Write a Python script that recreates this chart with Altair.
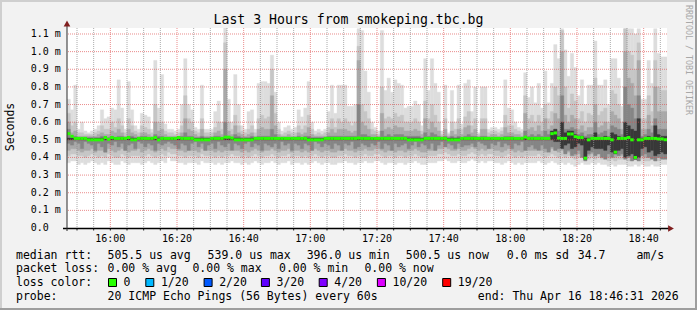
import altair as alt
import pandas as pd

MONO = "DejaVu Sans Mono"
TITLE = "Last 3 Hours from smokeping.tbc.bg"
START = "15:47"          # first minute column on the x axis
N_MIN = 180              # 3 hours of 60 s steps

# ---- per-minute smoke readings, in 1/100 ms (outer -> inner) ----
smoke_max = [73,67,81,56,60,55,54,55,56,58, 67,62,63,68,67,84,68,56,83,67, 58,56,65,64,63,56,95,68,87,59,
             56,56,55,56,70,96,70,67,57,56, 81,56,56,56,66,72,60,114,73,60, 87,70,58,56,66,67,56,82,83,83,
             82,98,77,60,55,57,58,56,57,67, 63,68,83,60,55,56,55,56,66,81, 65,81,81,81,69,69,70,113,112,89,
             77,60,57,55,112,78,85,77,84,82, 81,68,69,69,72,70,58,96,78,96, 82,77,55,81,54,78,60,81,59,82,
             84,66,80,54,80,80,56,57,57,56, 57,84,68,67,60,57,56,88,74,80, 71,82,68,89,71,82,104,96,113,101,
             86,99,91,75,84,70,81,81,106,81, 81,84,70,96,96,85,69,113,113,113, 110,113,73,73,95,82,113,99,97,97]
smoke_hi2 = [65,58,60,54,54,53,53,53,54,55, 58,56,56,60,57,62,58,54,62,58, 55,54,58,57,56,54,70,60,60,55,
             54,54,53,54,58,75,62,60,55,54, 62,54,54,54,57,60,56,105,60,56, 64,58,55,54,56,58,54,62,64,62,
             63,90,65,56,53,54,55,54,54,58, 56,58,64,56,53,54,53,54,57,62, 57,62,60,62,60,58,60,103,70,66,
             62,56,55,53,80,62,63,62,65,63, 64,60,60,60,62,60,55,72,62,70, 64,60,53,62,53,60,56,62,56,63,
             66,58,62,53,62,62,54,55,55,54, 55,64,58,58,56,55,54,75,62,64, 60,64,60,70,62,66,80,75,112,80,
             68,76,72,62,66,60,65,64,85,64, 66,68,60,78,76,70,60,113,100,98, 90,105,62,62,75,66,95,80,78,78]
smoke_hi3 = [60,54,55,52,52,52,52,52,52,53, 54,53,53,55,54,56,54,52,56,54, 53,52,54,54,53,52,60,55,56,53,
             52,52,52,52,54,62,56,55,53,52, 56,52,52,52,54,55,53,90,55,53, 58,54,53,52,53,54,52,56,57,56,
             56,75,58,53,52,52,53,52,52,54, 53,54,57,53,52,52,52,52,54,56, 54,56,56,56,55,54,55,95,60,58,
             56,53,53,52,65,56,57,56,58,57, 57,55,55,55,56,55,53,62,56,60, 57,55,52,56,52,55,53,56,53,57,
             58,54,56,52,56,56,52,53,53,52, 53,57,54,54,53,53,52,65,56,57, 55,58,55,62,56,58,65,62,100,64,
             60,64,62,56,58,55,57,57,70,57, 58,60,56,66,64,62,56,100,85,82, 75,95,56,56,64,58,80,66,66,66]
smoke_hi4 = [56,52,52,51,51,51,51,51,51,51, 52,51,51,52,51,52,52,51,52,52, 51,51,52,52,51,51,53,52,52,51,
             51,51,51,51,52,54,52,52,51,51, 52,51,51,51,52,52,51,60,52,51, 53,52,51,51,51,52,51,52,52,52,
             52,56,53,51,51,51,51,51,51,52, 51,52,52,51,51,51,51,51,52,52, 52,52,52,52,52,52,52,70,53,53,
             52,51,51,51,55,52,53,52,53,53, 53,52,52,52,52,52,51,54,52,54, 53,52,51,52,51,52,51,52,51,52,
             53,52,52,51,52,52,51,51,51,51, 51,52,52,52,51,51,51,55,52,53, 52,53,52,55,53,55,56,55,75,56,
             56,57,56,53,54,52,53,53,60,53, 54,55,52,58,57,56,53,80,70,68, 62,75,52,53,56,54,62,56,56,56]
smoke_hi5 = [51] * 145 + [55,56,52,60,54, 55,55,53,52,52, 51,51,51,54,51, 51,52,51,54,53,
                          52,51,60,58,56, 55,62,51,51,52, 51,58,53,52,52]
smoke_lo5 = [50] * 145 + [50,49,49,45,47, 48,45,46,48,47, 39,44,46,45,45, 45,44,47,43,42,
                          44,45,40,41,42, 39,40,45,46,43, 44,41,42,43,42]
smoke_lo4 = [48,47,49,48,45,49,48,47,44,48, 46,43,48,47,49,46,48,44,47,48, 45,49,48,46,48,47,44,48,47,48,
             49,48,47,45,48,47,44,48,49,46, 48,44,47,48,45,49,47,46,48,44, 48,47,45,48,49,46,48,47,44,48,
             47,46,48,45,49,47,48,44,48,47, 45,48,47,44,49,48,46,48,47,45, 48,47,44,48,47,49,45,46,48,47,
             46,48,47,49,45,48,47,44,48,46, 47,48,45,47,49,46,48,47,45,48, 44,47,49,46,48,47,45,48,46,47,
             47,48,46,49,48,47,45,48,47,49, 46,48,47,45,48,47,49,44,46,47, 45,44,47,45,43,46,44,45,46,42,
             44,41,42,44,40,38,42,43,41,42, 40,39,42,40,43,41,42,39,40,38, 39,38,41,42,40,39,38,40,39,39]
smoke_lo3 = [44,45,45,44,43,44,44,45,43,44, 44,43,45,44,43,44,45,44,43,44, 44,45,43,44,45,44,43,44,45,44,
             46,45,45,44,44,43,44,44,44,43, 45,44,44,44,43,44,43,44,44,45, 44,44,43,44,43,44,45,44,43,44,
             44,45,44,43,44,44,45,43,44,44, 43,44,43,44,45,44,43,44,44,43, 43,44,44,45,44,44,43,44,44,45,
             44,44,45,45,44,43,44,44,43,44, 44,43,44,44,45,44,43,43,44,44, 44,45,45,46,45,44,44,45,44,44,
             45,46,45,44,45,44,45,45,44,44, 43,44,45,44,43,44,43,44,44,44, 44,45,44,43,44,45,44,43,44,43,
             43,42,41,42,42,40,41,42,41,42, 41,41,40,41,40,41,41,41,40,40, 41,40,41,40,40,41,40,40,41,41]
smoke_lo2 = [41,42,42,41,41,40,41,42,41,40, 41,40,42,41,40,40,42,41,40,41, 41,41,40,41,42,41,40,41,42,41,
             43,42,42,41,41,40,41,41,41,40, 42,41,41,41,40,41,40,41,41,42, 41,41,40,41,40,41,42,41,40,41,
             41,42,41,40,41,41,42,40,41,41, 40,41,40,41,42,41,40,41,41,40, 40,41,41,42,41,41,40,41,41,42,
             41,41,42,42,41,40,41,41,40,41, 41,40,41,41,42,41,40,40,41,41, 41,42,42,43,42,41,41,42,41,41,
             42,43,42,41,42,41,42,42,41,41, 40,41,42,41,40,41,40,41,41,41, 41,42,41,40,41,42,41,40,41,40,
             41,40,39,40,40,39,39,40,39,40, 39,39,38,39,38,39,39,39,38,38, 39,38,39,38,38,39,38,38,39,39]
smoke_min = [37,38,38,36,37,36,37,38,37,36, 37,36,38,37,36,36,38,37,36,37, 37,37,36,37,38,37,36,37,38,37,
             40,38,38,37,37,36,37,37,37,36, 38,37,37,37,36,37,36,37,37,38, 37,37,36,37,36,37,38,37,36,37,
             37,38,37,36,37,37,38,36,37,37, 36,37,36,37,38,37,36,37,37,36, 36,37,37,38,37,37,36,37,37,38,
             37,37,38,38,37,36,37,37,36,37, 37,36,37,37,38,37,36,36,37,37, 37,38,38,39,38,37,37,38,37,37,
             38,39,38,37,38,37,38,38,37,37, 36,37,38,37,36,37,36,37,37,37, 37,38,37,36,37,38,37,36,37,36,
             37,36,35,36,37,36,36,37,36,37, 36,36,35,36,35,36,36,36,35,35, 36,35,36,35,35,36,35,35,36,36]
# median rtt per minute, in microseconds
median_us = [535,520,508,508,508,508,500,500,500,500, 500,513,503,513,508,508,508,508,513,500, 500,508,508,508,508,508,513,500,508,508,
             508,508,508,513,508,508,508,508,500,500, 500,500,500,508,508,508,508,515,515,510, 500,500,500,500,500,500,508,508,508,508,
             508,508,508,508,508,508,508,508,508,508, 508,508,500,500,500,500,500,508,508,508, 508,508,508,508,508,508,508,510,508,508,
             508,508,508,508,508,508,508,508,508,508, 508,508,500,500,500,500,500,508,508,508, 508,508,508,508,500,500,500,500,508,508,
             508,508,508,508,508,508,508,508,508,508, 508,508,508,508,508,508,508,515,508,508, 508,508,508,508,508,535,539,510,508,508,
             533,533,518,513,513,396,500,508,508,508, 508,508,508,500,430,508,508,508,513,500, 400,500,500,508,508,508,508,505,505,500.5]

# ---- axes ----
x_tick_labels = ["16:00", "16:20", "16:40", "17:00", "17:20", "17:40", "18:00", "18:20", "18:40"]
y_ticks = [0.0, 0.1, 0.2, 0.3, 0.4, 0.5, 0.6, 0.7, 0.8, 0.9, 1.0, 1.1]
y_tick_labels = ["0.0", "0.1 m", "0.2 m", "0.3 m", "0.4 m", "0.5 m", "0.6 m", "0.7 m", "0.8 m", "0.9 m", "1.0 m", "1.1 m"]
Y_TOP = 1.134

# ---- legend texts ----
rtt_items = ["median rtt:", "505.5 us avg", "539.0 us max", "396.0 us min", "500.5 us now", "0.0 ms sd", "34.7", "am/s"]
loss_items = ["packet loss:", "0.00 % avg", "0.00 % max", "0.00 % min", "0.00 % now"]
loss_color_labels = ["0", "1/20", "2/20", "3/20", "4/20", "10/20", "19/20"]
loss_color_values = ["#26ff00", "#00b8ff", "#0059ff", "#5e00ff", "#7e00ff", "#dd00ff", "#ff0000"]
probe_items = ["probe:", "20 ICMP Echo Pings (56 Bytes) every 60s", "end: Thu Apr 16 18:46:31 2026"]

# ---- layout (pixels on the 697x310 canvas) ----
PL, PT, PW, PH = 67, 28, 600, 200
rtt_x = [16, 107.6, 207.6, 306.7, 405.8, 506.7, 577.8, 636.4]
loss_x = [16, 107.6, 192.4, 279, 364.4]
box_x = [108, 145.3, 203.6, 260.9, 318.7, 376.9, 442.2]
probe_x = [16, 107.6, 477.8]
line_base = [258.5, 272.3, 286.2, 300.0]


def to_min(hhmm):
    h, m = hhmm.split(":")
    return int(h) * 60 + int(m)


t0 = to_min(START)
df = pd.DataFrame({
    "x0": list(range(N_MIN)),
    "x1": list(range(1, N_MIN + 1)),
    "mx": [v / 100 for v in smoke_max],
    "h2": [v / 100 for v in smoke_hi2],
    "h3": [v / 100 for v in smoke_hi3],
    "h4": [v / 100 for v in smoke_hi4],
    "h5": [v / 100 for v in smoke_hi5],
    "l5": [v / 100 for v in smoke_lo5],
    "l4": [v / 100 for v in smoke_lo4],
    "l3": [v / 100 for v in smoke_lo3],
    "l2": [v / 100 for v in smoke_lo2],
    "mn": [v / 100 for v in smoke_min],
    "med": [v / 1000 for v in median_us],
})

xs = alt.Scale(domain=[0, N_MIN], nice=False, zero=False)
ys = alt.Scale(domain=[0, Y_TOP], nice=False, zero=True)

major_pos = [to_min(s) - t0 for s in x_tick_labels]
grid_pos = [m - t0 for m in range(to_min("15:50"), to_min("18:46"), 5)]
minor_pos = [p for p in grid_pos if p not in major_pos]


def X(f):
    return alt.X(f, scale=xs, axis=None)


def Y(f):
    return alt.Y(f, scale=ys, axis=None)


def band(lo, hi, color):
    return alt.Chart(df).mark_rect(color=color, stroke=color, strokeWidth=0.4, clip=True).encode(
        x=X("x0:Q"), x2="x1:Q", y=Y(f"{lo}:Q"), y2=f"{hi}:Q")


layers = [
    band("mn", "mx", "#dddddd"),
    band("l2", "h2", "#c6c6c6"),
    band("l3", "h3", "#a9a9a9"),
    band("l4", "h4", "#858585"),
    band("l5", "h5", "#383838"),
]

# grid on top of the smoke, as rrdtool does
layers.append(alt.Chart(pd.DataFrame({"gy": y_ticks[1:]})).mark_rule(
    color="#de4f4f", opacity=0.65, strokeDash=[1, 1], strokeWidth=1).encode(y=Y("gy:Q")))
layers.append(alt.Chart(pd.DataFrame({"p": minor_pos})).mark_rule(
    color="#8f8f8f", opacity=0.75, strokeDash=[1, 1], strokeWidth=1).encode(
    x=X("p:Q"), y=alt.value(0), y2=alt.value(PH)))
layers.append(alt.Chart(pd.DataFrame({"p": major_pos})).mark_rule(
    color="#de4f4f", opacity=0.65, strokeDash=[1, 1], strokeWidth=1).encode(
    x=X("p:Q"), y=alt.value(0), y2=alt.value(PH)))

# median line
layers.append(alt.Chart(df).mark_rule(color="#26ff00", strokeWidth=3, strokeCap="butt", clip=True).encode(
    x=X("x0:Q"), x2="x1:Q", y=Y("med:Q")))

# axis ticks and tick labels
layers.append(alt.Chart(pd.DataFrame({"p": grid_pos})).mark_rule(color="#1f1f1f", strokeWidth=1).encode(
    x=X("p:Q"), y=alt.value(PH), y2=alt.value(PH + 2.5)))
layers.append(alt.Chart(pd.DataFrame({"p": major_pos, "t": x_tick_labels})).mark_text(
    font=MONO, fontSize=10, align="center", baseline="alphabetic", color="#000000").encode(
    x=X("p:Q"), y=alt.value(241.5 - PT), text="t:N"))
layers.append(alt.Chart(pd.DataFrame({"v": y_ticks, "t": y_tick_labels})).mark_text(
    font=MONO, fontSize=10, align="left", baseline="middle", color="#000000").encode(
    y=Y("v:Q"), x=alt.value(30.7 - PL), text="t:N"))

one = pd.DataFrame({"k": [0]})


def hrule(x1, x2, y, color, w):
    return alt.Chart(one).mark_rule(color=color, strokeWidth=w).encode(
        x=alt.value(x1 - PL), x2=alt.value(x2 - PL), y=alt.value(y - PT))


def vrule(x, y1, y2, color, w):
    return alt.Chart(one).mark_rule(color=color, strokeWidth=w).encode(
        x=alt.value(x - PL), y=alt.value(y1 - PT), y2=alt.value(y2 - PT))


def txt(s, x, y, size=11.5, align="left", angle=0, color="#000000", baseline="alphabetic"):
    return alt.Chart(one).mark_text(text=s, align=align, baseline=baseline, angle=angle, font=MONO,
                                    fontSize=size, color=color).encode(
        x=alt.value(x - PL), y=alt.value(y - PT))


# axis lines and arrows
layers.append(hrule(63, 670, 228.5, "#000000", 1.5))
layers.append(vrule(67, 24, 231, "#2a2a2a", 1))
layers.append(alt.Chart(one).mark_point(shape="triangle-up", filled=True, color="#801f1f", size=45, opacity=1).encode(
    x=alt.value(0), y=alt.value(23.5 - PT)))
layers.append(alt.Chart(one).mark_point(shape="triangle-right", filled=True, color="#801f1f", size=45, opacity=1).encode(
    x=alt.value(671 - PL), y=alt.value(228.5 - PT)))

# canvas frame
layers.append(hrule(0, 697, 1, "#cfcfcf", 2))
layers.append(vrule(1, 0, 310, "#cfcfcf", 2))
layers.append(hrule(0, 697, 309, "#9e9e9e", 2))
layers.append(vrule(696, 0, 310, "#9e9e9e", 2))

# titles
layers.append(txt(TITLE, 348.5, 24.3, size=13.2, align="center"))
layers.append(txt("Seconds", 11, 127, size=11.5, align="center", angle=270, baseline="middle"))
layers.append(txt("RRDTOOL / TOBI OETIKER", 688, 5, size=8.3, align="left", angle=90,
                  color="#a8a8a8", baseline="middle"))

# legend
for s, x in zip(rtt_items, rtt_x):
    layers.append(txt(s, x, line_base[0]))
for s, x in zip(loss_items, loss_x):
    layers.append(txt(s, x, line_base[1]))
layers.append(txt("loss color:", 16, line_base[2]))
for s, c, x in zip(loss_color_labels, loss_color_values, box_x):
    layers.append(alt.Chart(one).mark_rect(fill=c, stroke="#000000", strokeWidth=1).encode(
        x=alt.value(x + 0.5 - PL), x2=alt.value(x + 8.5 - PL),
        y=alt.value(278.5 - PT), y2=alt.value(286.5 - PT)))
    layers.append(txt(s, x + 15.6, line_base[2]))
for s, x in zip(probe_items, probe_x):
    layers.append(txt(s, x, line_base[3]))

chart = alt.layer(*layers).properties(
    width=PW, height=PH, autosize="none",
    padding={"left": PL, "top": PT, "right": 697 - PL - PW, "bottom": 310 - PT - PH},
    background="#f2f2f2",
).configure_view(fill="#ffffff", strokeWidth=0)

chart.save("out.html", embed_options={"renderer": "svg", "actions": False})
